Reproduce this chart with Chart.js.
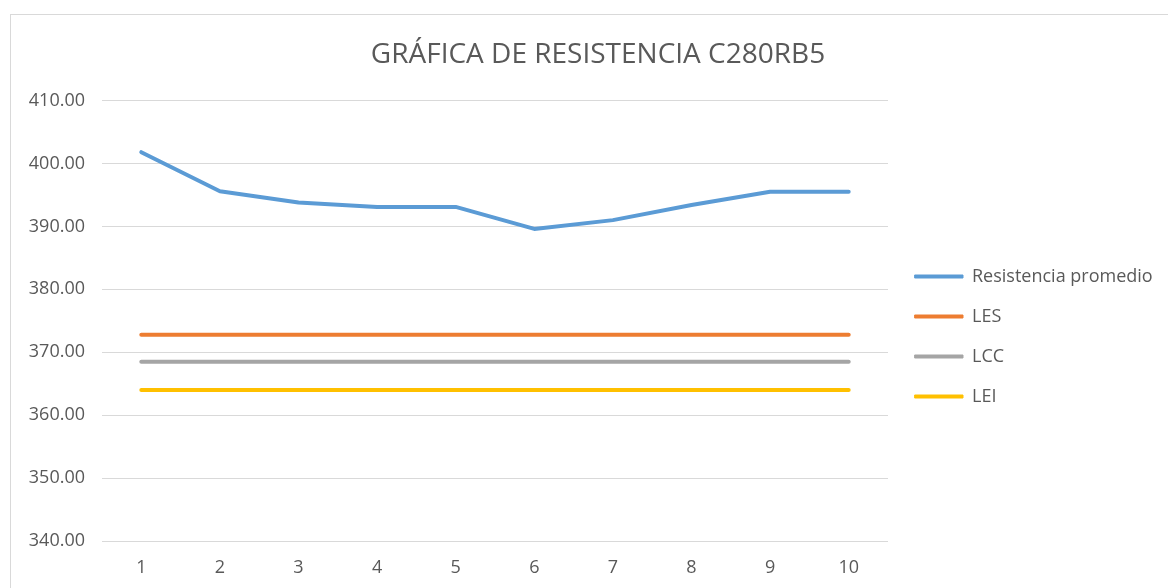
<!DOCTYPE html>
<html>
<head>
<meta charset="utf-8">
<title>Gráfica de resistencia C280RB5</title>
<script src="https://cdn.jsdelivr.net/npm/chart.js@4.4.0/dist/chart.umd.min.js"></script>
<style>
  html, body { margin: 0; padding: 0; background: #fff; overflow: hidden; }
  #marco { position: absolute; left: 10px; top: 14px; width: 1200px; height: 620px; border: 1px solid #d9d9d9; }
  #grafico { position: absolute; left: 0; top: 0; }
</style>
</head>
<body>
<div id="marco"></div>
<canvas id="grafico" width="1168" height="588"></canvas>
<script>
// Datos
const categorias = ['1', '2', '3', '4', '5', '6', '7', '8', '9', '10'];
const resistenciaPromedio = [401.8, 395.6, 393.8, 393.1, 393.1, 389.6, 391.0, 393.4, 395.5, 395.5];
const les = [372.8, 372.8, 372.8, 372.8, 372.8, 372.8, 372.8, 372.8, 372.8, 372.8];
const lcc = [368.5, 368.5, 368.5, 368.5, 368.5, 368.5, 368.5, 368.5, 368.5, 368.5];
const lei = [364.0, 364.0, 364.0, 364.0, 364.0, 364.0, 364.0, 364.0, 364.0, 364.0];
const ticksY = [340, 350, 360, 370, 380, 390, 400, 410];

Chart.defaults.font.family = "'Open Sans', sans-serif";
Chart.defaults.color = '#595959';

function serie(nombre, valores, color) {
  return {
    label: nombre,
    data: valores,
    borderColor: color,
    backgroundColor: color,
    borderWidth: 4,
    borderCapStyle: 'round',
    borderJoinStyle: 'round',
    pointRadius: 0,
    tension: 0
  };
}

// Ajuste de la leyenda y del título para que queden como en Excel
const ajusteLeyenda = {
  id: 'ajusteLeyenda',
  afterInit(chart) {
    const leyenda = chart.legend;
    const fitOriginal = leyenda.fit;
    leyenda.fit = function() {
      fitOriginal.call(this);
      this.width = 280;
    };
  },
  afterLayout(chart) {
    const l = chart.legend;
    l.left += 5;
    l.right += 5;
    l.top += 47;
    l.bottom += 47;
    const t = chart.titleBlock;
    if (t) {
      t.left += 9;
      t.right += 9;
    }
  }
};

const ctx = document.getElementById('grafico').getContext('2d');
const grafico = new Chart(ctx, {
  type: 'line',
  data: {
    labels: categorias,
    datasets: [
      serie('Resistencia promedio', resistenciaPromedio, '#5B9BD5'),
      serie('LES', les, '#ED7D31'),
      serie('LCC', lcc, '#A5A5A5'),
      serie('LEI', lei, '#FFC000')
    ]
  },
  options: {
    responsive: false,
    animation: false,
    layout: { padding: { left: 10, right: 0, top: 0, bottom: 9 } },
    plugins: {
      title: {
        display: true,
        text: 'GRÁFICA DE RESISTENCIA C280RB5',
        font: { size: 28, weight: 'normal' },
        color: '#595959',
        padding: { top: 38, bottom: 29 }
      },
      legend: {
        position: 'right',
        labels: {
          boxWidth: 48,
          boxHeight: 3,
          padding: 22,
          font: { size: 18 },
          color: '#595959',
          generateLabels(chart) {
            return Chart.defaults.plugins.legend.labels.generateLabels(chart).map(function(item) {
              item.lineWidth = 1;
              item.strokeStyle = item.fillStyle;
              return item;
            });
          }
        }
      },
      tooltip: { enabled: false }
    },
    scales: {
      x: {
        offset: true,
        afterFit(scale) {
          scale.height = 38;
        },
        grid: { display: false, drawTicks: false },
        border: { display: false },
        ticks: { padding: 16, font: { size: 18 }, color: '#595959' }
      },
      y: {
        min: 340,
        max: 410,
        afterBuildTicks(scale) {
          scale.ticks = ticksY.map(v => ({ value: v }));
        },
        afterFit(scale) {
          scale.width = 92;
        },
        grid: { color: '#d9d9d9', lineWidth: 1, drawTicks: false },
        border: { display: false },
        ticks: {
          padding: 17,
          font: { size: 18 },
          color: '#595959',
          callback: v => Number(v).toFixed(2)
        }
      }
    }
  },
  plugins: [ajusteLeyenda]
});
</script>
</body>
</html>
